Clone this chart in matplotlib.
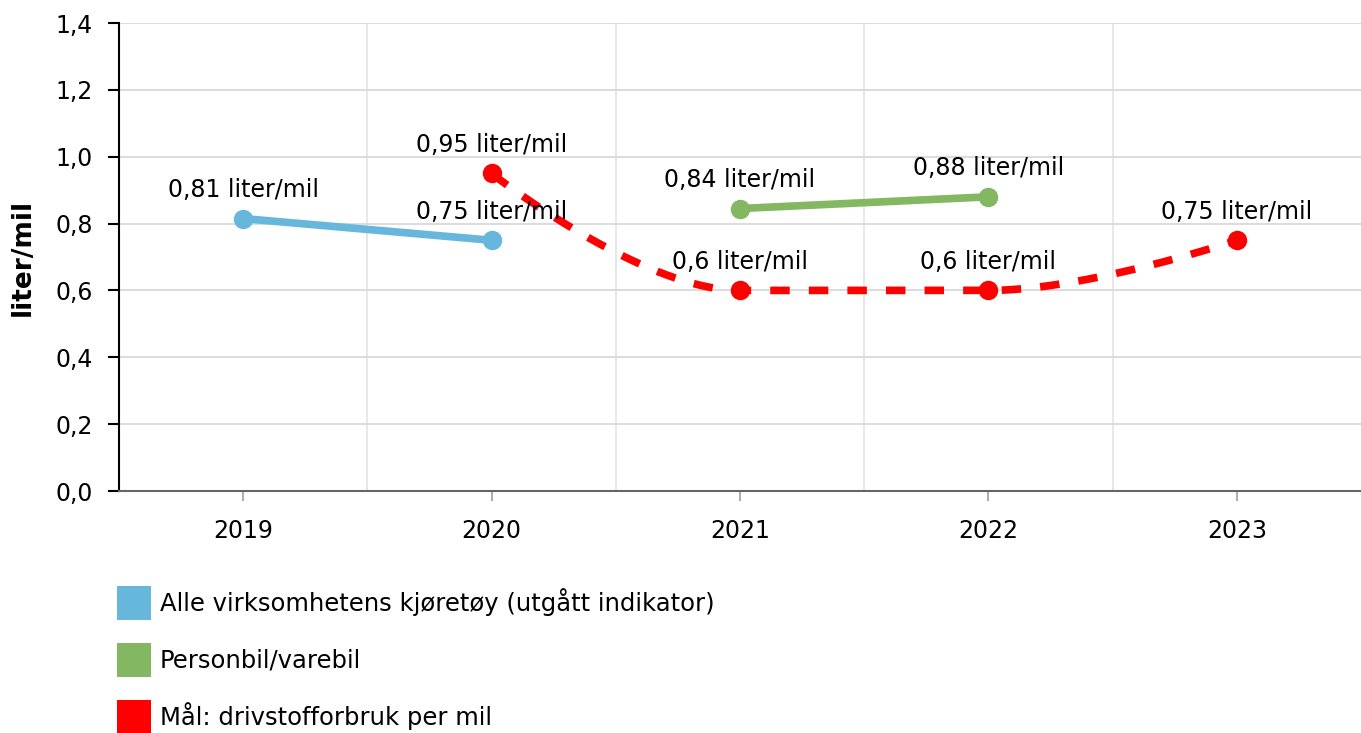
import numpy as np
import matplotlib
matplotlib.use("Agg")
import matplotlib.pyplot as plt
from matplotlib.patches import Patch

plt.rcParams['font.family'] = ['DejaVu Sans']

years = ["2019", "2020", "2021", "2022", "2023"]

blue_x = [0, 1]
blue_y = [0.815, 0.75]
blue_labels = ["0,81 liter/mil", "0,75 liter/mil"]

green_x = [2, 3]
green_y = [0.845, 0.88]
green_labels = ["0,84 liter/mil", "0,88 liter/mil"]

red_x = [1, 2, 3, 4]
red_y = [0.95, 0.6, 0.6, 0.75]
red_labels = ["0,95 liter/mil", "0,6 liter/mil", "0,6 liter/mil", "0,75 liter/mil"]

series_names = ["Alle virksomhetens kjøretøy (utgått indikator)",
                "Personbil/varebil",
                "Mål: drivstofforbruk per mil"]
c_blue, c_green, c_red = "#67b7dc", "#84b761", "#ff0000"

yticks = [0.0, 0.2, 0.4, 0.6, 0.8, 1.0, 1.2, 1.4]


def spline(xs, ys, n=80, smoothing=1.5):
    """Highcharts-style spline through the points (cubic Bezier segments)."""
    xs = list(map(float, xs)); ys = list(map(float, ys))
    m = len(xs)
    lc = [(x, y) for x, y in zip(xs, ys)]
    rc = [(x, y) for x, y in zip(xs, ys)]
    d = smoothing + 1
    for i in range(1, m - 1):
        px, py = xs[i], ys[i]
        lx = (smoothing * px + xs[i - 1]) / d
        ly = (smoothing * py + ys[i - 1]) / d
        rx = (smoothing * px + xs[i + 1]) / d
        ry = (smoothing * py + ys[i + 1]) / d
        if rx != lx:
            corr = ((ry - ly) * (rx - px)) / (rx - lx) + py - ry
            ly += corr; ry += corr
        if ly > max(ys[i - 1], py):
            ly = max(ys[i - 1], py); ry = 2 * py - ly
        elif ly < min(ys[i - 1], py):
            ly = min(ys[i - 1], py); ry = 2 * py - ly
        if ry > max(py, ys[i + 1]):
            ry = max(py, ys[i + 1]); ly = 2 * py - ry
        elif ry < min(py, ys[i + 1]):
            ry = min(py, ys[i + 1]); ly = 2 * py - ry
        lc[i] = (lx, ly); rc[i] = (rx, ry)
    outx, outy = [xs[0]], [ys[0]]
    t = np.linspace(0, 1, n)[1:]
    for i in range(1, m):
        p0 = np.array([xs[i - 1], ys[i - 1]])
        p1 = np.array(rc[i - 1]); p2 = np.array(lc[i]); p3 = np.array([xs[i], ys[i]])
        b = ((1 - t) ** 3)[:, None] * p0 + (3 * (1 - t) ** 2 * t)[:, None] * p1 \
            + (3 * (1 - t) * t ** 2)[:, None] * p2 + (t ** 3)[:, None] * p3
        outx.extend(b[:, 0]); outy.extend(b[:, 1])
    return outx, outy


W, H = 1361, 733
fig = plt.figure(figsize=(W / 100, H / 100), dpi=100)
ax = fig.add_axes([119 / W, 1 - 491 / H, (W - 119) / W, (491 - 23) / H])

ax.set_xlim(-0.5, 4.5)
ax.set_ylim(0, 1.4)

# grid
for xb in np.arange(0.5, 4.5, 1.0):
    ax.axvline(xb, color="#e3e3e3", lw=1.2, zorder=0)
for yv in yticks[1:]:
    ax.axhline(yv, color="#d9d9d9", lw=1.3, zorder=0)

LW = 5.5
MS = 14
# series
ax.plot(blue_x, blue_y, color=c_blue, lw=LW, zorder=3)
ax.plot(blue_x, blue_y, 'o', color=c_blue, ms=MS, mew=0, zorder=4)
ax.plot(green_x, green_y, color=c_green, lw=LW, zorder=3)
ax.plot(green_x, green_y, 'o', color=c_green, ms=MS, mew=0, zorder=4)
sx, sy = spline(red_x, red_y)
ax.plot(sx, sy, color=c_red, lw=LW, dashes=(2.55, 2.5), zorder=3)
ax.plot(red_x, red_y, 'o', color=c_red, ms=MS, mew=0, zorder=4)

FS = 17
lab_kw = dict(ha="center", va="baseline", fontsize=FS, color="black", zorder=5)
off = 0.064
for x, y, s in zip(blue_x, blue_y, blue_labels):
    ax.text(x, y + off, s, **lab_kw)
for x, y, s in zip(green_x, green_y, green_labels):
    ax.text(x, y + off, s, **lab_kw)
for x, y, s in zip(red_x, red_y, red_labels):
    ax.text(x, y + off, s, **lab_kw)

# axes style
ax.set_xticks(range(len(years)))
ax.set_xticklabels(years, fontsize=FS)
ax.set_yticks(yticks)
ax.set_yticklabels([f"{v:.1f}".replace(".", ",") for v in yticks], fontsize=FS)
ax.tick_params(axis="x", length=7, width=1.2, color="#a0a0a0", pad=13)
ax.tick_params(axis="y", length=8, width=1.5, color="black", pad=11)
for s in ["top", "right"]:
    ax.spines[s].set_visible(False)
ax.spines["left"].set_color("black")
ax.spines["left"].set_linewidth(1.5)
ax.spines["bottom"].set_color("#666666")
ax.spines["bottom"].set_linewidth(1.5)
fig.text(23 / W, 1 - 257 / H, "liter/mil", rotation=90, ha="center", va="center",
         fontsize=19, fontweight="bold")

# legend
handles = [Patch(facecolor=c, edgecolor="none") for c in (c_blue, c_green, c_red)]
fig.legend(handles, series_names, loc="upper left", bbox_to_anchor=(117 / W, 1 - 586 / H),
           frameon=False, fontsize=17.5, handlelength=1.4, handleheight=1.775,
           handletextpad=0.35, labelspacing=0.95, borderaxespad=0, borderpad=0)

fig.savefig("out.png", dpi=100)
